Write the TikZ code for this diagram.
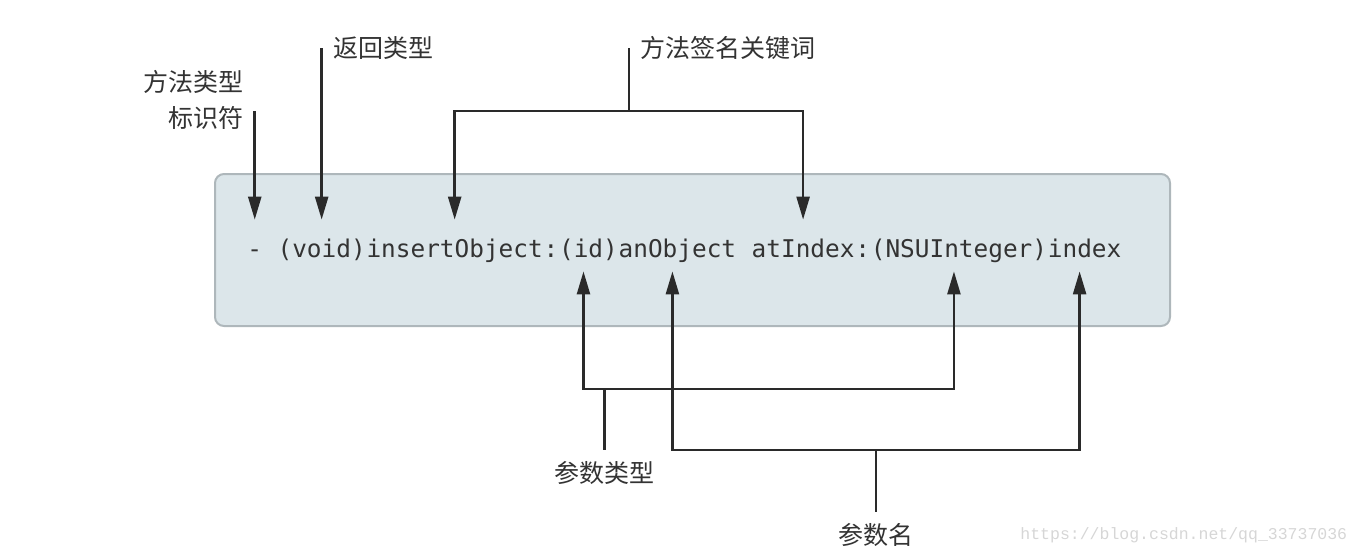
\documentclass[tikz,border=0pt]{standalone}
\usepackage{fontspec}
\usepackage{tikz}
\usetikzlibrary{positioning,calc,arrows.meta}
\newfontfamily\cjk{Noto Sans CJK SC}
\newfontfamily\codefont{DejaVu Sans Mono}
\newfontfamily\wmfont{Liberation Mono}
\definecolor{boxfill}{HTML}{DCE6EA}
\definecolor{boxline}{HTML}{AEB7BB}
\definecolor{inkgray}{HTML}{333333}
\definecolor{linegray}{HTML}{2A2A2A}
\definecolor{wmgray}{HTML}{D6D6D6}

\begin{document}
\begin{tikzpicture}[x=0.5pt, y=-0.5pt,
    seg/.style={inner sep=0pt, text height=18.5pt, text depth=7pt, text=inkgray, font=\codefont\fontsize{12.2pt}{14pt}\selectfont},
    lbl/.style={inner sep=5.5pt, text=inkgray, font=\cjk\fontsize{12.5pt}{18pt}\selectfont},
    bar/.style={line width=1.25pt, draw=linegray},
    arr/.style={bar, -{Triangle[length=11.5pt, width=6.5pt]}},
    arrs/.style={bar, {Triangle[length=11.5pt, width=6.5pt]}-{Triangle[length=11.5pt, width=6.5pt]}}]
    \useasboundingbox (0,0) rectangle (1360,554);

    % levels
    \coordinate (TopLab) at (0,48);
    \coordinate (KwBar) at (0,111);
    \coordinate (TypeBar) at (0,389);
    \coordinate (NameBar) at (0,450);
    \coordinate (NameLab) at (0,512);

    % code box
    \node[draw=boxline, fill=boxfill, line width=1pt, rounded corners=4.5pt, minimum width=477.5pt, minimum height=76pt, inner sep=0pt] (Box) at (692.5,250) {};

    % code pieces
    \node[seg, anchor=base west] (Minus) at ([xshift=16.5pt, yshift=-3.5pt]Box.west) {-};
    \node[seg, base right=7.35pt of Minus] (RetType) {(void)};
    \node[seg, base right=0pt of RetType] (Sel1) {insertObject};
    \node[seg, base right=0pt of Sel1] (Colon1) {:};
    \node[seg, base right=0pt of Colon1] (PType1) {(id)};
    \node[seg, base right=0pt of PType1] (PName1) {anObject};
    \node[seg, base right=7.35pt of PName1] (Sel2) {atIndex};
    \node[seg, base right=0pt of Sel2] (Colon2) {:};
    \node[seg, base right=0pt of Colon2] (PType2) {(NSUInteger)};
    \node[seg, base right=0pt of PType2] (PName2) {index};

    % top labels
    \coordinate (KindTop) at (Minus.north |- KwBar);
    \node[lbl, align=right, anchor=east] (Kind) at ([yshift=5.5pt]KindTop) {方法类型\\标识符};
    \coordinate (RetTop) at (RetType.north |- TopLab);
    \node[lbl, right=0pt of RetTop] (RetLab) {返回类型};
    \coordinate (KwMid) at ($(Sel1.north |- KwBar)!.5!(Sel2.north |- KwBar)$);
    \coordinate (KwTop) at (KwMid |- TopLab);
    \node[lbl, right=0pt of KwTop] (KwLab) {方法签名关键词};

    % down arrows
    \draw[arr] (KindTop) -- (Minus.north);
    \draw[arr] (RetTop) -- (RetType.north);
    \draw[arrs] (Sel1.north) -- (Sel1.north |- KwBar) -| (Sel2.north);
    \draw[bar] (KwTop) -- (KwMid);

    % up arrows
    \coordinate (PType1Foot) at ([xshift=-2.5pt]PType1.south);
    \coordinate (PName1Foot) at ([xshift=-2.5pt]PName1.south);
    \coordinate (PType2Foot) at ([xshift=-2.5pt]PType2.south);
    \coordinate (PName2Foot) at ([xshift=-2.5pt]PName2.south);
    \draw[arrs] (PType1Foot) -- (PType1Foot |- TypeBar) -| (PType2Foot);
    \draw[arrs] (PName1Foot) -- (PName1Foot |- NameBar) -| (PName2Foot);

    % bottom labels
    \coordinate (TypeStem) at ($(PType1Foot |- TypeBar)+(21,0)$);
    \coordinate (TypeEnd) at (TypeStem |- NameBar);
    \draw[bar] (TypeStem) -- (TypeEnd);
    \node[lbl, below=0pt of TypeEnd] (TypeLab) {参数类型};
    \coordinate (NameMid) at ($(PName1Foot |- NameBar)!.5!(PName2Foot |- NameBar)$);
    \coordinate (NameEnd) at (NameMid |- NameLab);
    \draw[bar] (NameMid) -- (NameEnd);
    \node[lbl, below=0pt of NameEnd] (NameText) {参数名};

    % watermark
    \node[font=\wmfont\fontsize{8.25pt}{10pt}\selectfont, text=wmgray, anchor=base west, inner sep=0pt] (Mark) at (1020,539) {https://blog.csdn.net/qq\_33737036};
\end{tikzpicture}
\end{document}
